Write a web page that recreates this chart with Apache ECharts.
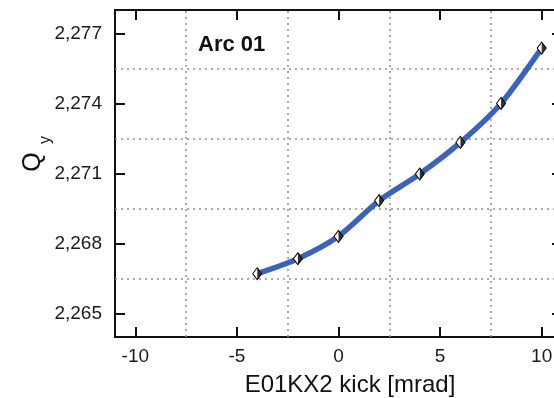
<!DOCTYPE html>
<html><head><meta charset="utf-8">
<script src="https://cdn.jsdelivr.net/npm/echarts@6/dist/echarts.min.js"></script>
<style>html,body{margin:0;padding:0;background:#fff;overflow:hidden}#c{width:562px;height:398px}</style>
</head><body><div id="c"></div>
<script>
const kick = [-4, -2, 0, 2, 4, 6, 8, 10];
const qy = [2.26671, 2.26735, 2.26831, 2.26984, 2.27098, 2.27233, 2.27400, 2.27637];
const xTicks = [-10, -5, 0, 5, 10];
const xGrid = [-7.5, -2.5, 2.5, 7.5];
const yTicks = [2.265, 2.268, 2.271, 2.274, 2.277];
const yGrid = [2.2665, 2.2695, 2.2725, 2.2755];

const FONT = 'Liberation Sans, Arial, sans-serif';
const X_MIN = -11, X_MAX = 11, Y_MIN = 2.264, Y_MAX = 2.278;
const chart = echarts.init(document.getElementById('c'), null, {renderer: 'canvas'});

function xAx(pos, showLabel) {
  return {
    type: 'value', position: pos, min: X_MIN, max: X_MAX,
    axisLine: {show: true, onZero: false, lineStyle: {color: '#111', width: 2}},
    axisTick: {show: true, inside: true, length: 10, customValues: xTicks, lineStyle: {color: '#111', width: 2}},
    axisLabel: {show: showLabel, customValues: xTicks, margin: 10, fontSize: 19, fontFamily: FONT, color: '#1a1a1a'},
    splitLine: {show: false}
  };
}
function yAx(pos, showLabel) {
  return {
    type: 'value', position: pos, min: Y_MIN, max: Y_MAX,
    axisLine: {show: true, onZero: false, lineStyle: {color: '#111', width: 2}},
    axisTick: {show: true, inside: true, length: 10, customValues: yTicks, lineStyle: {color: '#111', width: 2}},
    axisLabel: {show: showLabel, customValues: yTicks, margin: 13, fontSize: 19, fontFamily: FONT, color: '#1a1a1a',
      formatter: v => v.toFixed(3).replace('.', ',')},
    splitLine: {show: false}
  };
}

const pts = kick.map((k, i) => [k, qy[i]]);
const gridLines = xGrid.map(v => [{coord: [v, Y_MIN]}, {coord: [v, Y_MAX]}])
  .concat(yGrid.map(v => [{coord: [X_MIN, v]}, {coord: [X_MAX, v]}]));

chart.setOption({
  animation: false,
  backgroundColor: '#fff',
  grid: {left: 115, right: 0, top: 10, bottom: 61, containLabel: false},
  xAxis: [xAx('bottom', true), xAx('top', false)],
  yAxis: [yAx('left', true), yAx('right', false)],
  series: [
    {
      type: 'line', data: pts, smooth: 0.25, z: 3,
      lineStyle: {color: '#3d63b8', width: 5.5},
      symbol: 'diamond', symbolSize: [9, 12], showAllSymbol: true,
      itemStyle: {color: '#fff', borderColor: '#000', borderWidth: 1},
      markLine: {
        silent: true, symbol: 'none', label: {show: false}, animation: false, z: 1,
        lineStyle: {type: [2, 4], color: '#8a8f96', width: 1.5},
        emphasis: {disabled: true},
        data: gridLines
      }
    },
    {
      type: 'scatter', data: pts, z: 4, silent: true,
      symbol: 'path://M0,0 L1,1 L0,2 Z', symbolSize: [4.5, 12], symbolOffset: [2.25, 0],
      itemStyle: {color: '#000'}
    }
  ],
  graphic: [
    {type: 'text', x: 198, y: 45, style: {text: 'Arc 01', fontSize: 22, fontWeight: 'bold', fontFamily: FONT, fill: '#111', align: 'left', verticalAlign: 'middle'}},
    {type: 'text', x: 33, y: 162, rotation: Math.PI / 2, style: {text: 'Q', fontSize: 25, fontFamily: FONT, fill: '#111', align: 'center', verticalAlign: 'middle'}},
    {type: 'text', x: 46, y: 140, rotation: Math.PI / 2, style: {text: 'y', fontSize: 16, fontFamily: FONT, fill: '#111', align: 'center', verticalAlign: 'middle'}},
    {type: 'text', x: 350, y: 385, style: {text: 'E01KX2 kick [mrad]', fontSize: 24, fontFamily: FONT, fill: '#111', align: 'center', verticalAlign: 'middle'}}
  ]
});
</script>
</body></html>
